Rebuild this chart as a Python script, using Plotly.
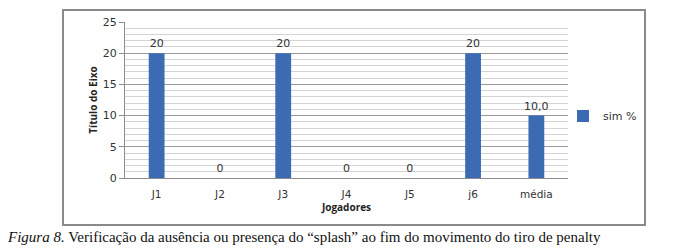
import plotly.graph_objects as go

categories = ["J1", "J2", "J3", "J4", "J5", "j6", "média"]
values = [20, 0, 20, 0, 0, 20, 10]
labels = ["20", "0", "20", "0", "0", "20", "10,0"]
series_name = "sim %"
y_ticks = [0, 5, 10, 15, 20, 25]

W, H = 690, 249
L, R, T, B = 125, 122, 22, 71
pw = W - L - R
ph = H - T - B

def px(x):
    return (x - L) / pw

def py(y):
    return (H - B - y) / ph

fig = go.Figure()
fig.add_trace(go.Bar(
    x=categories, y=values, name=series_name,
    marker=dict(color="#3D6BB3", line=dict(width=0)),
    width=0.25,
    text=labels, textposition="outside", cliponaxis=False, constraintext="none",
    textfont=dict(family="DejaVu Sans", size=11, color="#333333"),
    showlegend=True,
))

fig.update_layout(
    width=W, height=H,
    margin=dict(l=L, r=R, t=T, b=B, autoexpand=False),
    paper_bgcolor="white", plot_bgcolor="white",
    showlegend=True,
    legend=dict(x=px(563), y=py(116), xanchor="left", yanchor="middle",
                font=dict(family="DejaVu Sans", size=11, color="#333333"),
                itemwidth=30, bgcolor="rgba(0,0,0,0)"),
    xaxis=dict(
        showline=True, linecolor="#8c8c8c", linewidth=1,
        ticks="", tickfont=dict(family="DejaVu Sans", size=10.5, color="#333333"),
        ticklabelstandoff=6,
        title=dict(text="<b>Jogadores</b>", font=dict(family="Open Sans", size=10, color="#222222"), standoff=4),
        showgrid=False,
    ),
    yaxis=dict(
        range=[0, 25], tickvals=y_ticks, ticktext=[str(v) for v in y_ticks],
        showline=True, linecolor="#8c8c8c", linewidth=1,
        ticks="outside", ticklen=5, tickcolor="#8c8c8c",
        tickfont=dict(family="DejaVu Sans", size=11, color="#333333"),
        showgrid=True, gridcolor="#9a9a9a", gridwidth=1,
        minor=dict(dtick=1, showgrid=True, gridcolor="#d4d4d4", gridwidth=1, ticks=""),
        title=dict(text="<b>Título do Eixo</b>", font=dict(family="Open Sans", size=10, color="#222222"), standoff=3),
        zeroline=False,
    ),
    font=dict(family="DejaVu Sans"),
)

fig.add_shape(type="rect", xref="paper", yref="paper",
              x0=px(63), x1=px(645), y0=py(225), y1=py(10),
              line=dict(color="#8a8a8a", width=2), fillcolor="rgba(0,0,0,0)", layer="below")

fig.add_annotation(
    xref="paper", yref="paper", x=px(5), y=py(237), xanchor="left", yanchor="middle",
    text="<i>Figura 8.</i> Verificação da ausência ou presença do “splash” ao fim do movimento do tiro de penalty",
    showarrow=False, font=dict(family="Liberation Serif", size=15, color="#111111"),
)

fig.write_html("out.html", config={"displayModeBar": False},
               post_script="document.body.style.margin='0';document.body.style.overflow='hidden';")
